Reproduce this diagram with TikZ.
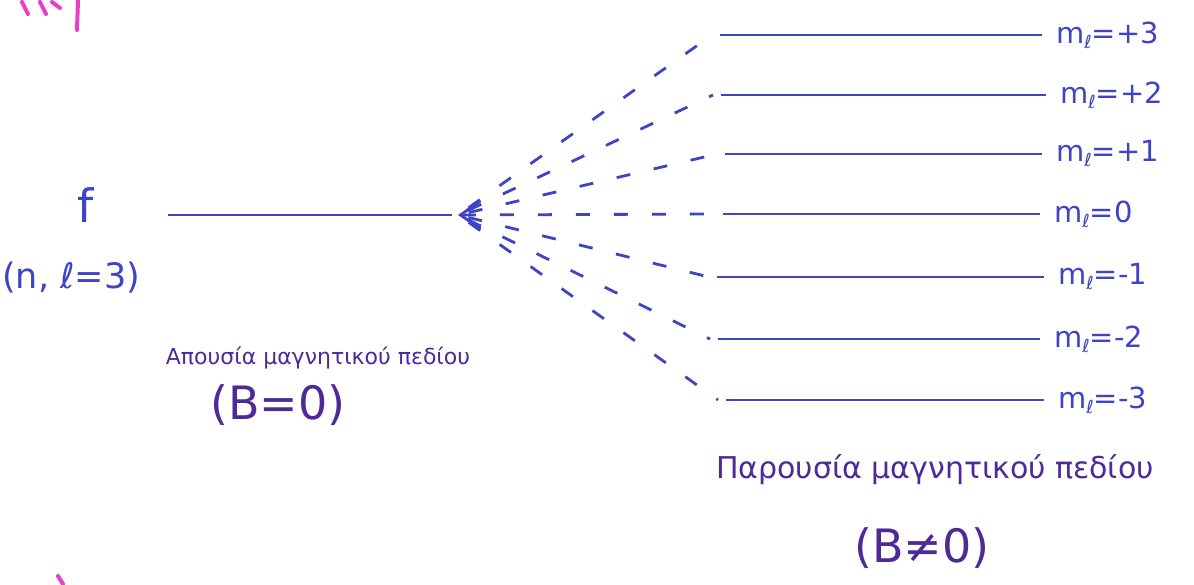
\documentclass[tikz,border=0pt]{standalone}
\usepackage{fontspec}
\setmainfont{DejaVu Sans}
\usetikzlibrary{arrows.meta,calc}
\definecolor{inkblue}{RGB}{62,68,196}
\definecolor{inkpurple}{RGB}{78,42,150}
\definecolor{inkpink}{RGB}{232,62,200}
\newcommand{\mlsub}{m\raisebox{-5pt}{\fontsize{18}{18}\selectfont ℓ}}
\begin{document}
\begin{tikzpicture}[x=1pt,y=-1pt,
  level/.style={draw=inkblue,line width=2.8pt},
  fan/.style={draw=inkblue,line width=2.8pt,dash pattern=on 14pt off 24pt},
  mlab/.style={anchor=west,text=inkblue,font=\fontsize{29}{32}\selectfont,inner sep=0pt},
  captext/.style={text=inkpurple,inner sep=0pt},
  pinkstroke/.style={draw=inkpink,line width=4pt,line cap=round}]
\useasboundingbox (0,0) rectangle (1194,584);
\fill[white] (0,0) rectangle (1194,584);
% pink fragments of the cropped label
\draw[pinkstroke] (22,2) -- (28,14);
\draw[pinkstroke] (40,2) -- (46,14);
\draw[pinkstroke] (52,2) -- (60,8);
\draw[pinkstroke] (78,0) -- (77,30);
\draw[pinkstroke] (58,576) -- (63,584);
% left level (B=0)
\coordinate (L0s) at (168,215);
\coordinate (L0e) at (452,215);
\coordinate (F) at (458,215);
\draw[level] (L0s) -- (L0e);
\node[text=inkblue,font=\fontsize{46}{48}\selectfont,inner sep=0pt] (f) at (86,205) {f};
\node[text=inkblue,font=\fontsize{35}{38}\selectfont,inner sep=0pt,anchor=west] (nl) at (2,278) {(n, ℓ=3)};
\node[captext,font=\fontsize{22}{26}\selectfont] (capA) at (318,358) {Απουσία μαγνητικού πεδίου};
\node[captext,font=\fontsize{46}{50}\selectfont] (capA2) at (278,405) {(B=0)};
% right levels (B != 0)
\foreach \name/\ys/\xs/\xe/\lab in {p3/35/720/1042/+3, p2/95/721/1046/+2, p1/154/725/1042/+1, z/214/723/1040/0, m1/277/717/1044/-1, m2/339/718/1040/-2, m3/400/726/1044/-3}{
  \coordinate (\name s) at (\xs,\ys);
  \coordinate (\name e) at (\xe,\ys);
  \draw[level] (\name s) -- (\name e);
  \node[mlab] (lab\name) at ($(\name e)+(14,0)$) {\mlsub=\lab};
}
% dashed fan
\foreach \name in {p3,p2,p1,m1,m2,m3}{
  \draw[fan] ($(F)!0.04!(\name s)$) -- ($(\name s)+(-8,0)$);
}
\draw[fan,{Straight Barb[length=20pt,width=28pt,line width=2.8pt]}-] (F) -- ($(zs)+(-8,0)$);
\node[captext,font=\fontsize{30}{34}\selectfont] (capB) at (935,470) {Παρουσία μαγνητικού πεδίου};
\node[captext,font=\fontsize{46}{50}\selectfont] (capB2) at (922,548) {(B≠0)};
\end{tikzpicture}
\end{document}
